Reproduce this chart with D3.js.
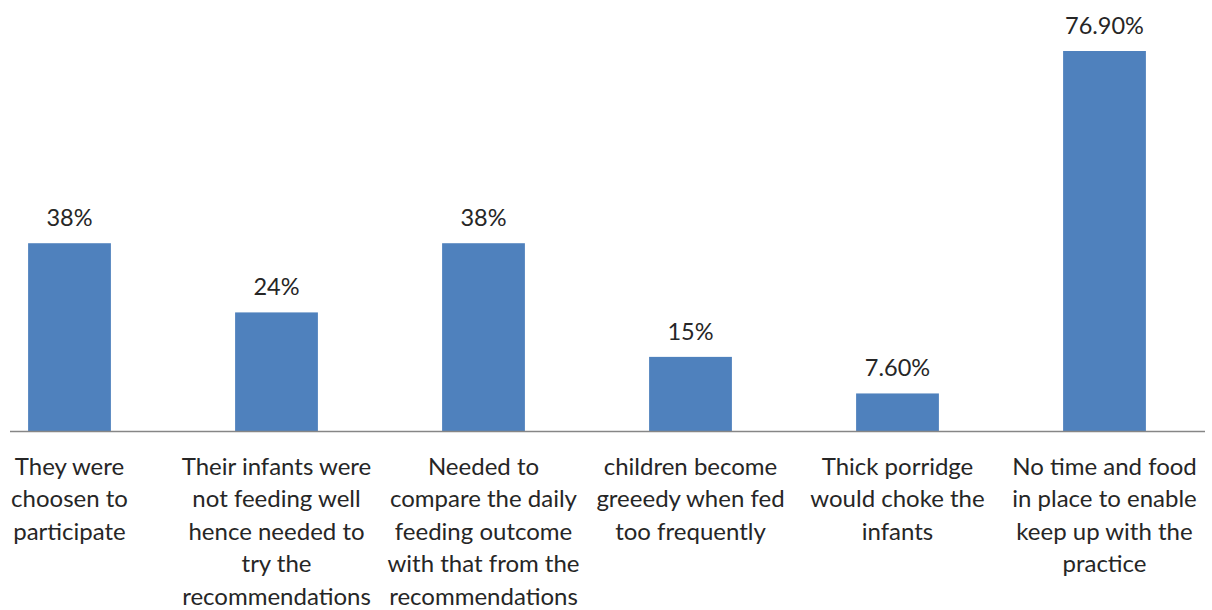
<!DOCTYPE html>
<html>
<head>
<meta charset="utf-8">
<script src="https://cdn.jsdelivr.net/npm/d3@7"></script>
<style>
  html, body { margin: 0; padding: 0; background: #fff; }
  svg { display: block; }
</style>
</head>
<body>
<div id="chart"></div>
<script>
const categories = [
  ['They were', 'choosen to', 'participate'],
  ['Their infants were', 'not feeding well', 'hence needed to', 'try the', 'recommendations'],
  ['Needed to', 'compare the daily', 'feeding outcome', 'with that from the', 'recommendations'],
  ['children become', 'greeedy when fed', 'too frequently'],
  ['Thick porridge', 'would choke the', 'infants'],
  ['No time and food', 'in place to enable', 'keep up with the', 'practice'],
];
const values = [38, 24, 38, 15, 7.6, 76.9];
const valueLabels = ['38%', '24%', '38%', '15%', '7.60%', '76.90%'];

const width = 1212;
const height = 610;
const baseY = 431;
const font = 'Lato, "Open Sans", sans-serif';

const svg = d3.select('#chart')
  .append('svg')
  .attr('width', width)
  .attr('height', height);

const idx = d3.range(values.length);

const xScale = d3.scaleBand()
  .domain(idx)
  .range([-34, 1208])
  .paddingInner(0.6)
  .paddingOuter(0.3);

const yScale = d3.scaleLinear()
  .domain([0, 76.9])
  .range([baseY, 51]);

// bars
svg.selectAll('.bar')
  .data(values)
  .join('rect')
  .attr('class', 'bar')
  .attr('x', (d, i) => xScale(i))
  .attr('y', (d) => yScale(d))
  .attr('width', xScale.bandwidth())
  .attr('height', (d) => yScale(0) - yScale(d))
  .attr('fill', '#4F81BD');

// axis line
svg.append('line')
  .attr('x1', 10)
  .attr('x2', 1205)
  .attr('y1', baseY + 0.5)
  .attr('y2', baseY + 0.5)
  .attr('stroke', '#868686')
  .attr('stroke-width', 1.3);

// value labels
svg.selectAll('.value')
  .data(values)
  .join('text')
  .attr('class', 'value')
  .attr('x', (d, i) => xScale(i) + xScale.bandwidth() / 2)
  .attr('y', (d) => yScale(d) - 17)
  .attr('text-anchor', 'middle')
  .style('font-family', font)
  .style('font-size', '23.5px')
  .attr('fill', '#262626')
  .text((d, i) => valueLabels[i]);

// category labels
const cat = svg.selectAll('.cat')
  .data(categories)
  .join('text')
  .attr('class', 'cat')
  .attr('text-anchor', 'middle')
  .style('font-family', font)
  .style('font-size', '24px')
  .attr('fill', '#262626');

cat.selectAll('tspan')
  .data((d, i) => d.map((line) => ({line, i})))
  .join('tspan')
  .attr('x', (d) => xScale(d.i) + xScale.bandwidth() / 2)
  .attr('y', (d, j) => 475 + j * 32.4)
  .text((d) => d.line);
</script>
</body>
</html>
